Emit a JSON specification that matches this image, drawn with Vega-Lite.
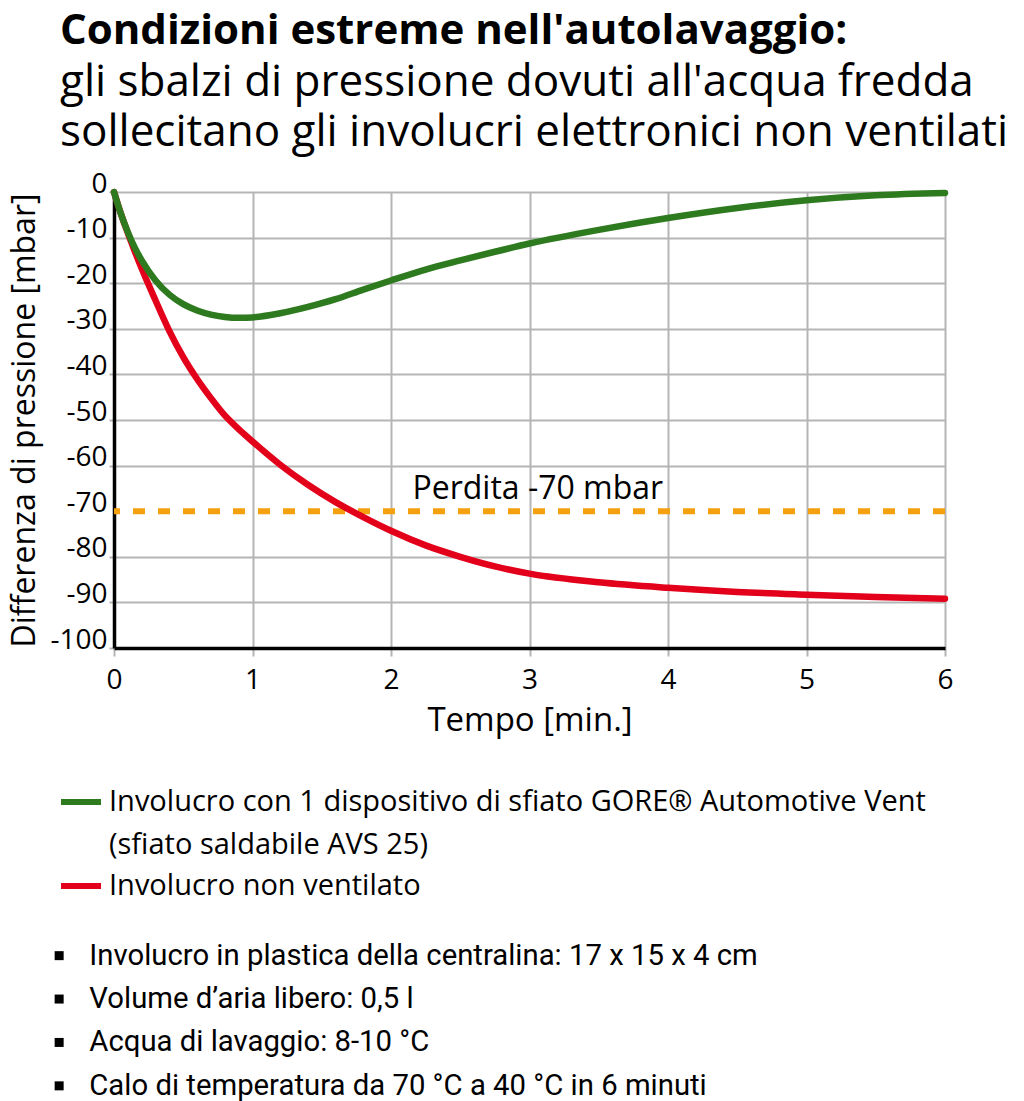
{
  "$schema": "https://vega.github.io/schema/vega-lite/v6.json",
  "width": 831,
  "height": 456,
  "autosize": {"type": "none"},
  "padding": {"left": 114, "top": 192, "right": 79, "bottom": 453},
  "background": "white",
  "config": {
    "font": "Open Sans",
    "view": {"stroke": null}
  },
  "title": {
    "text": "Condizioni estreme nell'autolavaggio:",
    "subtitle": ["gli sbalzi di pressione dovuti all'acqua fredda", "sollecitano gli involucri elettronici non ventilati"],
    "anchor": "start",
    "frame": "group",
    "dx": -54,
    "offset": 14,
    "font": "Open Sans",
    "fontSize": 42,
    "fontWeight": "bold",
    "color": "black",
    "subtitleFont": "Open Sans",
    "subtitleFontSize": 44,
    "subtitleColor": "black",
    "subtitleLineHeight": 50,
    "subtitlePadding": 8
  },
  "datasets": {
    "curves": [
      {"serie": "Involucro non ventilato", "t": 0, "p": 0},
      {"serie": "Involucro non ventilato", "t": 0.05, "p": -4.8},
      {"serie": "Involucro non ventilato", "t": 0.1, "p": -9},
      {"serie": "Involucro non ventilato", "t": 0.15, "p": -13},
      {"serie": "Involucro non ventilato", "t": 0.2, "p": -16.8},
      {"serie": "Involucro non ventilato", "t": 0.3, "p": -23.8},
      {"serie": "Involucro non ventilato", "t": 0.4, "p": -30.5},
      {"serie": "Involucro non ventilato", "t": 0.5, "p": -36.2},
      {"serie": "Involucro non ventilato", "t": 0.6, "p": -41},
      {"serie": "Involucro non ventilato", "t": 0.7, "p": -45.2},
      {"serie": "Involucro non ventilato", "t": 0.8, "p": -49},
      {"serie": "Involucro non ventilato", "t": 0.9, "p": -52},
      {"serie": "Involucro non ventilato", "t": 1, "p": -54.7},
      {"serie": "Involucro non ventilato", "t": 1.2, "p": -59.8},
      {"serie": "Involucro non ventilato", "t": 1.4, "p": -64.2},
      {"serie": "Involucro non ventilato", "t": 1.6, "p": -68},
      {"serie": "Involucro non ventilato", "t": 1.8, "p": -71.3},
      {"serie": "Involucro non ventilato", "t": 2, "p": -74.3},
      {"serie": "Involucro non ventilato", "t": 2.25, "p": -77.5},
      {"serie": "Involucro non ventilato", "t": 2.5, "p": -80},
      {"serie": "Involucro non ventilato", "t": 2.75, "p": -82.1},
      {"serie": "Involucro non ventilato", "t": 3, "p": -83.7},
      {"serie": "Involucro non ventilato", "t": 3.5, "p": -85.6},
      {"serie": "Involucro non ventilato", "t": 4, "p": -86.8},
      {"serie": "Involucro non ventilato", "t": 4.5, "p": -87.7},
      {"serie": "Involucro non ventilato", "t": 5, "p": -88.3},
      {"serie": "Involucro non ventilato", "t": 5.5, "p": -88.8},
      {"serie": "Involucro non ventilato", "t": 6, "p": -89.2},
      {"serie": "Involucro con 1 dispositivo di sfiato GORE® Automotive Vent (sfiato saldabile AVS 25)", "t": 0, "p": 0},
      {"serie": "Involucro con 1 dispositivo di sfiato GORE® Automotive Vent (sfiato saldabile AVS 25)", "t": 0.05, "p": -4.8},
      {"serie": "Involucro con 1 dispositivo di sfiato GORE® Automotive Vent (sfiato saldabile AVS 25)", "t": 0.1, "p": -8.8},
      {"serie": "Involucro con 1 dispositivo di sfiato GORE® Automotive Vent (sfiato saldabile AVS 25)", "t": 0.15, "p": -12.2},
      {"serie": "Involucro con 1 dispositivo di sfiato GORE® Automotive Vent (sfiato saldabile AVS 25)", "t": 0.2, "p": -15},
      {"serie": "Involucro con 1 dispositivo di sfiato GORE® Automotive Vent (sfiato saldabile AVS 25)", "t": 0.3, "p": -19.4},
      {"serie": "Involucro con 1 dispositivo di sfiato GORE® Automotive Vent (sfiato saldabile AVS 25)", "t": 0.4, "p": -22.5},
      {"serie": "Involucro con 1 dispositivo di sfiato GORE® Automotive Vent (sfiato saldabile AVS 25)", "t": 0.5, "p": -24.6},
      {"serie": "Involucro con 1 dispositivo di sfiato GORE® Automotive Vent (sfiato saldabile AVS 25)", "t": 0.6, "p": -26},
      {"serie": "Involucro con 1 dispositivo di sfiato GORE® Automotive Vent (sfiato saldabile AVS 25)", "t": 0.7, "p": -26.9},
      {"serie": "Involucro con 1 dispositivo di sfiato GORE® Automotive Vent (sfiato saldabile AVS 25)", "t": 0.8, "p": -27.4},
      {"serie": "Involucro con 1 dispositivo di sfiato GORE® Automotive Vent (sfiato saldabile AVS 25)", "t": 0.9, "p": -27.6},
      {"serie": "Involucro con 1 dispositivo di sfiato GORE® Automotive Vent (sfiato saldabile AVS 25)", "t": 1, "p": -27.5},
      {"serie": "Involucro con 1 dispositivo di sfiato GORE® Automotive Vent (sfiato saldabile AVS 25)", "t": 1.2, "p": -26.6},
      {"serie": "Involucro con 1 dispositivo di sfiato GORE® Automotive Vent (sfiato saldabile AVS 25)", "t": 1.4, "p": -25.2},
      {"serie": "Involucro con 1 dispositivo di sfiato GORE® Automotive Vent (sfiato saldabile AVS 25)", "t": 1.6, "p": -23.5},
      {"serie": "Involucro con 1 dispositivo di sfiato GORE® Automotive Vent (sfiato saldabile AVS 25)", "t": 1.8, "p": -21.4},
      {"serie": "Involucro con 1 dispositivo di sfiato GORE® Automotive Vent (sfiato saldabile AVS 25)", "t": 2, "p": -19.4},
      {"serie": "Involucro con 1 dispositivo di sfiato GORE® Automotive Vent (sfiato saldabile AVS 25)", "t": 2.25, "p": -17},
      {"serie": "Involucro con 1 dispositivo di sfiato GORE® Automotive Vent (sfiato saldabile AVS 25)", "t": 2.5, "p": -15},
      {"serie": "Involucro con 1 dispositivo di sfiato GORE® Automotive Vent (sfiato saldabile AVS 25)", "t": 2.75, "p": -13.1},
      {"serie": "Involucro con 1 dispositivo di sfiato GORE® Automotive Vent (sfiato saldabile AVS 25)", "t": 3, "p": -11.3},
      {"serie": "Involucro con 1 dispositivo di sfiato GORE® Automotive Vent (sfiato saldabile AVS 25)", "t": 3.5, "p": -8.3},
      {"serie": "Involucro con 1 dispositivo di sfiato GORE® Automotive Vent (sfiato saldabile AVS 25)", "t": 4, "p": -5.7},
      {"serie": "Involucro con 1 dispositivo di sfiato GORE® Automotive Vent (sfiato saldabile AVS 25)", "t": 4.5, "p": -3.5},
      {"serie": "Involucro con 1 dispositivo di sfiato GORE® Automotive Vent (sfiato saldabile AVS 25)", "t": 5, "p": -1.8},
      {"serie": "Involucro con 1 dispositivo di sfiato GORE® Automotive Vent (sfiato saldabile AVS 25)", "t": 5.5, "p": -0.7},
      {"serie": "Involucro con 1 dispositivo di sfiato GORE® Automotive Vent (sfiato saldabile AVS 25)", "t": 6, "p": -0.2}
    ],
    "soglia": [
      {"t": 3.06, "p": -70, "label": "Perdita -70 mbar"}
    ],
    "note": [
      {"nota": "Involucro in plastica della centralina: 17 x 15 x 4 cm"},
      {"nota": "Volume d’aria libero: 0,5 l"},
      {"nota": "Acqua di lavaggio: 8-10 °C"},
      {"nota": "Calo di temperatura da 70 °C a 40 °C in 6 minuti"}
    ]
  },
  "encoding": {
    "x": {
      "field": "t",
      "type": "quantitative",
      "scale": {"domain": [0, 6], "nice": false},
      "axis": {
        "title": "Tempo [min.]",
        "values": [0, 1, 2, 3, 4, 5, 6],
        "format": "d",
        "grid": true,
        "gridColor": "#b5b5b5",
        "gridWidth": 2,
        "domainColor": "black",
        "domainWidth": 3.5,
        "tickColor": "#b5b5b5",
        "tickWidth": 2,
        "tickSize": 8,
        "labelFont": "Open Sans",
        "labelFontSize": 28,
        "labelColor": "black",
        "labelPadding": 10,
        "labelFlush": false,
        "labelOverlap": false,
        "titleFont": "Open Sans",
        "titleFontSize": 33,
        "titleFontWeight": "normal",
        "titleColor": "black",
        "titlePadding": 10
      }
    },
    "y": {
      "field": "p",
      "type": "quantitative",
      "scale": {"domain": [-100, 0], "nice": false},
      "axis": {
        "title": "Differenza di pressione [mbar]",
        "values": [-100, -90, -80, -70, -60, -50, -40, -30, -20, -10, 0],
        "labelExpr": "datum.value + ''",
        "grid": true,
        "gridColor": "#b5b5b5",
        "gridWidth": 2,
        "gridOpacity": {"condition": {"test": "datum.value == -70", "value": 0}, "value": 1},
        "tickOpacity": {"condition": {"test": "datum.value == -70", "value": 0}, "value": 1},
        "domainColor": "black",
        "domainWidth": 3.5,
        "tickColor": "#b5b5b5",
        "tickWidth": 2,
        "tickSize": 5,
        "labelFont": "Open Sans",
        "labelFontSize": 28,
        "labelColor": "black",
        "labelPadding": 2,
        "labelBaseline": "alphabetic",
        "labelFlush": false,
        "labelOverlap": false,
        "titleFont": "Open Sans",
        "titleFontSize": 32,
        "titleFontWeight": "normal",
        "titleColor": "black",
        "titlePadding": 8
      }
    }
  },
  "layer": [
    {
      "data": {"name": "soglia"},
      "mark": {"type": "rule", "color": "#f5a00f", "strokeWidth": 6, "strokeDash": [12, 13]},
      "encoding": {"x": null}
    },
    {
      "data": {"name": "soglia"},
      "mark": {"type": "text", "align": "center", "baseline": "alphabetic", "dy": -12, "fontSize": 32, "font": "Open Sans", "color": "black"},
      "encoding": {"text": {"field": "label"}}
    },
    {
      "data": {"name": "curves"},
      "transform": [{"filter": "datum.serie == 'Involucro non ventilato'"}],
      "mark": {"type": "line", "strokeWidth": 6.5, "interpolate": "monotone", "strokeCap": "round"},
      "encoding": {
        "color": {
          "field": "serie",
          "type": "nominal",
          "scale": {
            "domain": ["Involucro con 1 dispositivo di sfiato GORE® Automotive Vent (sfiato saldabile AVS 25)", "Involucro non ventilato"],
            "range": ["#2e7a1f", "#e2001a"]
          },
          "legend": {
            "orient": "none",
            "legendX": -56,
            "legendY": 587,
            "title": null,
            "padding": 0,
            "symbolType": "stroke",
            "symbolSize": 1600,
            "symbolStrokeWidth": 6,
            "labelFont": "Open Sans",
            "labelFontSize": 29,
            "labelColor": "black",
            "labelLimit": 2000,
            "labelOffset": 5,
            "labelBaseline": "top",
            "rowPadding": 3,
            "labelExpr": "indexof(datum.label, ' (') > 0 ? [substring(datum.label, 0, indexof(datum.label, ' (')), substring(datum.label, indexof(datum.label, ' (') + 1)] : datum.label",
            "encode": {"labels": {"update": {"dy": {"value": -14}, "lineHeight": {"value": 43}}}}
          }
        }
      }
    },
    {
      "data": {"name": "curves"},
      "transform": [{"filter": "datum.serie != 'Involucro non ventilato'"}],
      "mark": {"type": "line", "strokeWidth": 6.5, "interpolate": "monotone", "strokeCap": "round"},
      "encoding": {"color": {"field": "serie", "type": "nominal"}}
    },
    {
      "data": {"name": "note"},
      "mark": {"type": "point", "filled": true, "color": "black", "opacity": 0},
      "encoding": {
        "x": null,
        "y": null,
        "shape": {
          "field": "nota",
          "type": "nominal",
          "sort": null,
          "scale": {"range": ["square"]},
          "legend": {
            "orient": "none",
            "legendX": -69.5,
            "legendY": 749,
            "title": null,
            "padding": 0,
            "symbolSize": 81,
            "symbolFillColor": "black",
            "symbolStrokeWidth": 0,
            "symbolOpacity": 1,
            "labelFont": "Roboto",
            "labelFontSize": 29.3,
            "labelColor": "black",
            "labelLimit": 2000,
            "labelOffset": 15.5,
            "rowPadding": 13.4
          }
        }
      }
    }
  ]
}
